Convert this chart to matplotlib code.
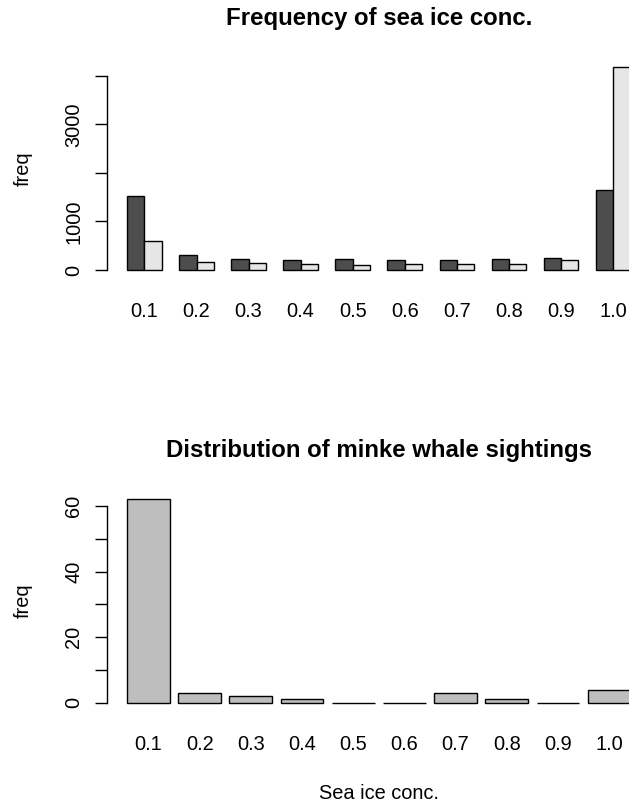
import numpy as np
import matplotlib
matplotlib.use("Agg")
import matplotlib.pyplot as plt

plt.rcParams['font.family'] = ['Liberation Sans', 'DejaVu Sans']

#
# Datos
#
conc_labels = ["0.1", "0.2", "0.3", "0.4", "0.5", "0.6", "0.7", "0.8", "0.9", "1.0"]

# frecuencia de concentracion de hielo (dos series, estilo barplot beside=TRUE)
freq_dark = [1530, 310, 226, 213, 226, 203, 206, 233, 254, 1646]
freq_light = [603, 160, 144, 117, 103, 117, 123, 117, 206, 4170]

# avistamientos de ballena minke
sightings = [62, 3, 2, 1, 0, 0, 3, 1, 0, 4]

top_ticks = [0, 1000, 2000, 3000, 4000]
top_ticklabels = ["0", "1000", "", "3000", ""]
bot_ticks = [0, 10, 20, 30, 40, 50, 60]
bot_ticklabels = ["0", "", "20", "", "40", "", "60"]

DARK = "#4D4D4D"
LIGHT = "#E6E6E6"
GREY = "#BEBEBE"
FS = 14.4
lw = 1.0


def estilo_r(ax, ticks, labels):
	for s in ["top", "right", "bottom"]:
		ax.spines[s].set_visible(False)
	ax.spines["left"].set_bounds(ticks[0], ticks[-1])
	ax.spines["left"].set_linewidth(lw)
	ax.set_yticks(ticks)
	ax.set_yticklabels(labels, rotation=90, va="center", fontsize=FS)
	ax.tick_params(axis="y", length=8.6, width=lw, pad=8.5)
	ax.tick_params(axis="x", length=0, pad=17.2, labelsize=FS)
	ax.set_ylabel("freq", fontsize=FS, va="center")
	ax.yaxis.set_label_coords(-0.1545, 0.5)


fig = plt.figure(figsize=(6.29, 8.05), dpi=100)

#
# Panel superior
#
ax1 = fig.add_axes([0.1701, 0.6545, 0.8642, 0.2718])
n = len(conc_labels)
grupos = 3 * np.arange(n)
ax1.bar(grupos + 1.5, freq_dark, width=1, color=DARK, edgecolor="black", linewidth=lw)
ax1.bar(grupos + 2.5, freq_light, width=1, color=LIGHT, edgecolor="black", linewidth=lw)
ax1.set_xticks(grupos + 2)
ax1.set_xticklabels(conc_labels)
x_lo, x_hi = 1, 3 * n
ext = 0.04 * (x_hi - x_lo)
ax1.set_xlim(x_lo - ext, x_hi + ext)
ymax = max(max(freq_dark), max(freq_light))
ax1.set_ylim(-0.04 * ymax, 1.04 * ymax)
estilo_r(ax1, top_ticks, top_ticklabels)
ax1.set_title("Frequency of sea ice conc.", fontsize=17.3, fontweight="bold", pad=24.7)

#
# Panel inferior
#
ax2 = fig.add_axes([0.1701, 0.1170, 0.8642, 0.2727])
pos = 0.7 + 1.2 * np.arange(n)
ax2.bar(pos, sightings, width=1, color=GREY, edgecolor="black", linewidth=lw)
ax2.set_xticks(pos)
ax2.set_xticklabels(conc_labels)
x_lo, x_hi = 0.2, 1.2 * n
ext = 0.04 * (x_hi - x_lo)
ax2.set_xlim(x_lo - ext, x_hi + ext)
ymax = max(sightings)
ax2.set_ylim(-0.04 * ymax, 1.04 * ymax)
estilo_r(ax2, bot_ticks, bot_ticklabels)
ax2.set_title("Distribution of minke whale sightings", fontsize=17.3, fontweight="bold", pad=24.7)
ax2.set_xlabel("Sea ice conc.", fontsize=FS, va="baseline")
ax2.xaxis.set_label_coords(0.5, -0.403)

fig.savefig("out.png", dpi=100)
